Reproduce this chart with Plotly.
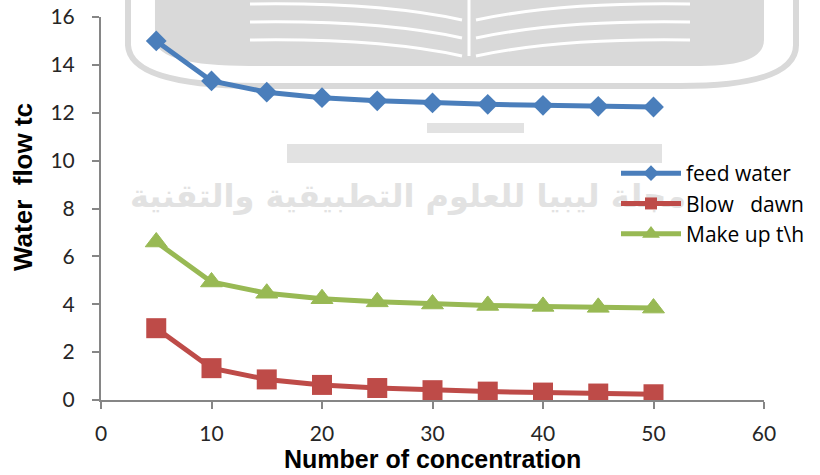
import plotly.graph_objects as go

# Cycles of concentration and resulting water flows (t/h)
concentration = [5, 10, 15, 20, 25, 30, 35, 40, 45, 50]
feed_water = [15.0, 13.33, 12.86, 12.63, 12.5, 12.41, 12.35, 12.31, 12.27, 12.24]
blow_down = [3.0, 1.33, 0.86, 0.63, 0.5, 0.41, 0.35, 0.31, 0.27, 0.24]
make_up = [6.6, 4.93, 4.46, 4.23, 4.1, 4.01, 3.95, 3.91, 3.87, 3.84]

x_ticks = [0, 10, 20, 30, 40, 50, 60]
y_ticks = [0, 2, 4, 6, 8, 10, 12, 14, 16]
X_RANGE = [0, 60]
Y_RANGE = [0, 16]

BLUE = "#4a7ebb"
RED = "#be4b48"
GREEN = "#98b954"
AXIS = "#868686"
MARK = "#d9d9d9"

# plot-area box in page pixels, used to place the journal watermark
L, R, T, B = 101, 764, 17, 400


def px(x):
    return (x - L) / (R - L)


def py(y):
    return (B - y) / (B - T)


def path(points, close=False):
    cmds = []
    for i, p in enumerate(points):
        if p[0] == "Q":
            cmds.append(f"Q{px(p[1]):.4f},{py(p[2]):.4f} {px(p[3]):.4f},{py(p[4]):.4f}")
        else:
            cmds.append(("M" if i == 0 else "L") + f"{px(p[0]):.4f},{py(p[1]):.4f}")
    return " ".join(cmds) + (" Z" if close else "")


fig = go.Figure()

# watermark caption, added first so that it sits beneath the series and legend
wm_x = X_RANGE[0] + px(408) * (X_RANGE[1] - X_RANGE[0])
wm_y = Y_RANGE[0] + py(199) * (Y_RANGE[1] - Y_RANGE[0])
fig.add_trace(go.Scatter(
    x=[wm_x], y=[wm_y], mode="text", showlegend=False, hoverinfo="skip",
    text=["<b>مجلة ليبيا للعلوم التطبيقية والتقنية</b>"],
    textfont=dict(family="DejaVu Sans", size=32, color="#e2e2e2"),
    textposition="middle center", cliponaxis=False,
))

fig.add_trace(go.Scatter(
    x=concentration, y=feed_water, name="feed water", mode="lines+markers",
    line=dict(color=BLUE, width=5),
    marker=dict(symbol="diamond", size=16, color=BLUE),
))
fig.add_trace(go.Scatter(
    x=concentration, y=blow_down, name="Blow\u00a0\u00a0 dawn", mode="lines+markers",
    line=dict(color=RED, width=5),
    marker=dict(symbol="square", size=20, color=RED),
))
fig.add_trace(go.Scatter(
    x=concentration, y=make_up, name="Make up t\\h", mode="lines+markers",
    line=dict(color=GREEN, width=5),
    marker=dict(symbol="triangle-up", size=19, color=GREEN,
                line=dict(color=GREEN, width=1)),
))

# faint journal logo behind the data
shapes = []
# outer bowl outline
shapes.append(dict(
    type="path", xref="paper", yref="paper", layer="below",
    path=path([(128, -5), (128, 45), ("Q", 130, 86, 260, 86), (680, 86),
               ("Q", 796, 86, 796, 45), (796, -5)]),
    line=dict(color=MARK, width=6), fillcolor="rgba(0,0,0,0)",
))
# open book
shapes.append(dict(
    type="path", xref="paper", yref="paper", layer="below",
    path=path([(155, -5), (155, 40), ("Q", 158, 66, 250, 66), (700, 66),
               ("Q", 764, 66, 764, 40), (764, -5)], close=True),
    line=dict(width=0), fillcolor=MARK,
))
# page lines
for yy in (8, 26, 44):
    shapes.append(dict(
        type="path", xref="paper", yref="paper", layer="below",
        path=path([(250, yy - 4), ("Q", 380, yy - 6, 462, yy + 12)]),
        line=dict(color="white", width=3),
    ))
    shapes.append(dict(
        type="path", xref="paper", yref="paper", layer="below",
        path=path([(476, yy + 12), ("Q", 560, yy - 6, 690, yy - 4)]),
        line=dict(color="white", width=3),
    ))
shapes.append(dict(
    type="line", xref="paper", yref="paper", layer="below",
    x0=px(469), x1=px(469), y0=py(-5), y1=py(56),
    line=dict(color="white", width=3),
))
# bars beneath the book
shapes.append(dict(
    type="rect", xref="paper", yref="paper", layer="below",
    x0=px(427), x1=px(524), y0=py(133), y1=py(123),
    line=dict(width=0), fillcolor="#e2e2e2",
))
shapes.append(dict(
    type="rect", xref="paper", yref="paper", layer="below",
    x0=px(287), x1=px(662), y0=py(163), y1=py(144),
    line=dict(width=0), fillcolor="#e2e2e2",
))

annotations = [
    dict(
        text="<b>Number of concentration</b>",
        xref="paper", yref="paper", x=px(432), y=py(475),
        showarrow=False, font=dict(family="Liberation Sans", size=25, color="black"),
        xanchor="center", yanchor="bottom",
    ),
    dict(
        text="<b>Water\u00a0 flow tc</b>",
        xref="paper", yref="paper", x=px(23), y=py(187),
        showarrow=False, textangle=-90,
        font=dict(family="Liberation Sans", size=26, color="black"),
        xanchor="center", yanchor="middle",
    ),
]

axis_common = dict(
    showgrid=False, zeroline=False, showline=True, linecolor=AXIS, linewidth=2,
    ticks="outside", ticklen=7, tickcolor=AXIS, tickwidth=2,
    tickfont=dict(family="Lato", size=21, color="#262626"),
)

fig.update_layout(
    width=820, height=475,
    margin=dict(l=L, r=820 - R, t=T, b=475 - B, autoexpand=False),
    paper_bgcolor="white", plot_bgcolor="rgba(0,0,0,0)",
    showlegend=True,
    legend=dict(
        x=px(616), y=py(153), xanchor="left", yanchor="top",
        bgcolor="rgba(0,0,0,0)", font=dict(family="Open Sans", size=21, color="black"),
        itemsizing="constant", tracegroupgap=0, itemwidth=60,
    ),
    xaxis=dict(range=X_RANGE, tickvals=x_ticks, ticklabelstandoff=7, **axis_common),
    yaxis=dict(range=Y_RANGE, tickvals=y_ticks, ticklabelstandoff=13, **axis_common),
    shapes=shapes,
    annotations=annotations,
)

fig.write_html("out.html")
